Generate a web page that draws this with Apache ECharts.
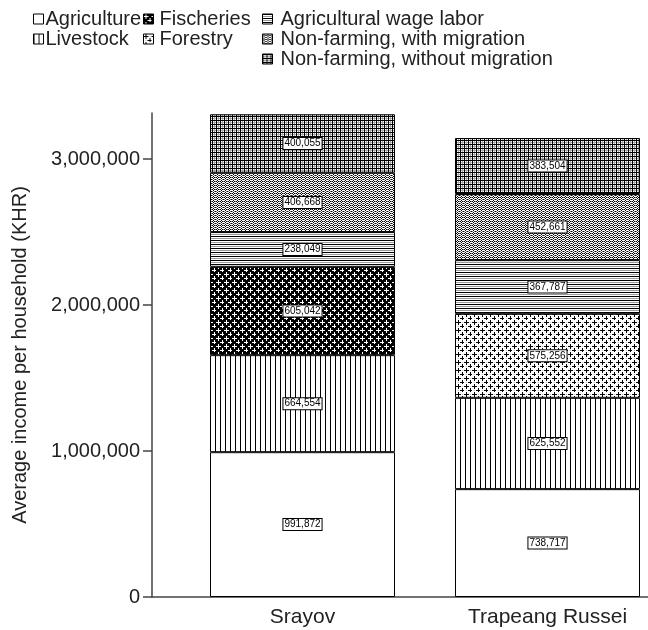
<!DOCTYPE html>
<html>
<head>
<meta charset="utf-8">
<script src="https://cdn.jsdelivr.net/npm/echarts@6/dist/echarts.min.js"></script>
<style>
  html, body { margin: 0; padding: 0; background: #fff; }
  #chart { width: 648px; height: 630px; }
</style>
</head>
<body>
<div id="chart"></div>
<script>
const villages = ['Srayov', 'Trapeang Russei']
const seriesNames = [
  'Agriculture', 'Livestock', 'Fischeries', 'Forestry',
  'Agricultural wage labor', 'Non-farming, with migration', 'Non-farming, without migration'
]
const agriculture = [991872, 738717]
const livestock = [664554, 625552]
const fischeries = [605042, 0]
const forestry = [0, 575256]
const wageLabor = [238049, 367787]
const withMigration = [406668, 452661]
const withoutMigration = [400055, 383504]
const yTicks = [0, 1000000, 2000000, 3000000]

const FONT = 'Liberation Sans, Arial, Helvetica, sans-serif'

// small canvas tiles used as hatch fills
function tile(w, h, draw) {
  const c = document.createElement('canvas')
  c.width = w
  c.height = h
  const ctx = c.getContext('2d')
  ctx.fillStyle = '#fff'
  ctx.fillRect(0, 0, w, h)
  draw(ctx)
  return { image: c, repeat: 'repeat' }
}

function plus(ctx, x, y, color) {
  ctx.fillStyle = color
  ctx.fillRect(x - 2, y, 5, 1)
  ctx.fillRect(x, y - 2, 1, 5)
}

const fills = [
  '#fff',
  tile(5, 4, ctx => { ctx.fillStyle = '#000'; ctx.fillRect(0, 0, 1, 4) }),
  tile(8, 8, ctx => {
    ctx.fillStyle = '#000'; ctx.fillRect(0, 0, 8, 8)
    plus(ctx, 2, 2, '#fff'); plus(ctx, 6, 6, '#fff')
  }),
  tile(8, 8, ctx => {
    ctx.fillStyle = '#bbb'
    ctx.fillRect(6, 2, 1, 1); ctx.fillRect(2, 6, 1, 1)
    plus(ctx, 2, 2, '#000'); plus(ctx, 6, 6, '#000')
  }),
  tile(4, 4, ctx => {
    ctx.fillStyle = '#000'; ctx.fillRect(0, 0, 4, 1)
    ctx.fillStyle = '#999'; ctx.fillRect(0, 2, 4, 1)
  }),
  // diamond check
  tile(4, 4, ctx => {
    ctx.fillStyle = '#000'
    ctx.fillRect(1, 0, 1, 1); ctx.fillRect(0, 1, 1, 1); ctx.fillRect(2, 1, 1, 1)
    ctx.fillRect(1, 2, 1, 1); ctx.fillRect(3, 3, 1, 1)
    ctx.fillStyle = '#777'
    ctx.fillRect(3, 1, 1, 1); ctx.fillRect(2, 3, 1, 1); ctx.fillRect(0, 3, 1, 1)
  }),
  tile(4, 4, ctx => {
    ctx.fillStyle = '#000'
    ctx.fillRect(0, 0, 4, 1); ctx.fillRect(0, 0, 1, 4)
    ctx.fillStyle = '#aaa'
    ctx.fillRect(2, 1, 1, 3); ctx.fillRect(1, 2, 3, 1)
  })
]

const values = [agriculture, livestock, fischeries, forestry, wageLabor, withMigration, withoutMigration]

const series = seriesNames.map((name, i) => ({
  name,
  type: 'bar',
  stack: 'income',
  barWidth: 185,
  data: values[i].map(v => v || '-'),
  itemStyle: {
    color: fills[i],
    borderColor: '#000',
    borderWidth: 1
  },
  label: {
    show: true,
    position: 'inside',
    formatter: p => p.value.toLocaleString('en-US'),
    fontFamily: FONT,
    fontSize: 10,
    color: '#000',
    backgroundColor: '#fff',
    borderColor: '#000',
    borderWidth: 1,
    padding: [1, 1, 0, 1]
  },
  emphasis: { disabled: true }
}))

function legend(names, left, top, gap) {
  return {
    data: names,
    orient: 'vertical',
    left,
    top,
    icon: 'rect',
    itemWidth: 10,
    itemHeight: 10,
    itemGap: 0,
    selectedMode: false,
    itemStyle: { borderColor: '#000', borderWidth: 1 },
    textStyle: { fontFamily: FONT, fontSize: 20, lineHeight: 20, color: '#222', padding: [0, 0, 0, gap] }
  }
}

const option = {
  animation: false,
  legend: [
    legend(seriesNames.slice(0, 2), 28, 4, -3),
    legend(seriesNames.slice(2, 4), 138, 4, 1),
    legend(seriesNames.slice(4), 257, 4, 3)
  ],
  grid: [
    { left: 180, width: 490, top: 113, bottom: 33, outerBoundsMode: 'none' },
    { left: 152, right: 0, top: 113, bottom: 33, outerBoundsMode: 'none' }
  ],
  xAxis: [
    {
      type: 'category',
      data: villages,
      gridIndex: 0,
      axisLine: { show: false },
      axisTick: { alignWithLabel: true, length: 6, lineStyle: { color: '#444', width: 1.5 } },
      axisLabel: { fontFamily: FONT, fontSize: 21, color: '#222', margin: 10 }
    },
    {
      type: 'category',
      data: [''],
      gridIndex: 1,
      axisLine: { lineStyle: { color: '#444', width: 1.5 } },
      axisTick: { show: false },
      axisLabel: { show: false }
    }
  ],
  yAxis: [
    {
      type: 'value',
      gridIndex: 0,
      min: 0,
      max: 3315000,
      offset: 28,
      name: 'Average income per household (KHR)',
      nameLocation: 'middle',
      nameGap: 122,
      nameTextStyle: { fontFamily: FONT, fontSize: 20, color: '#222' },
      axisLine: { show: true, lineStyle: { color: '#444', width: 1.5 } },
      axisTick: { show: true, length: 9, customValues: yTicks, lineStyle: { color: '#444', width: 1.5 } },
      axisLabel: {
        fontFamily: FONT, fontSize: 20, color: '#222', margin: 12,
        customValues: yTicks,
        formatter: v => v.toLocaleString('en-US')
      },
      splitLine: { show: false }
    },
    {
      type: 'value',
      gridIndex: 1,
      show: false
    }
  ],
  series
}

const myChart = echarts.init(document.getElementById('chart'))
myChart.setOption(option)
</script>
</body>
</html>
